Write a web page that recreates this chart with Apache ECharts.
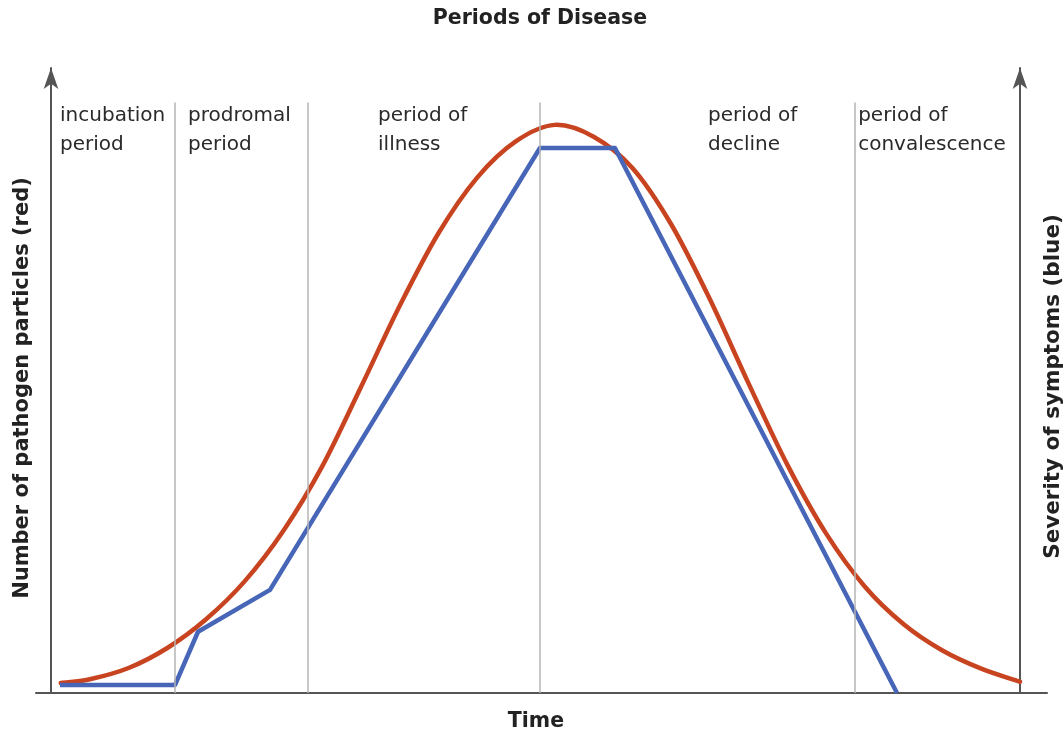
<!DOCTYPE html>
<html>
<head>
<meta charset="utf-8">
<title>Periods of Disease</title>
<script src="https://cdn.jsdelivr.net/npm/echarts@6/dist/echarts.min.js"></script>
<style>
  html, body { margin: 0; padding: 0; background: #fff; }
  #chart { width: 1063px; height: 735px; }
</style>
</head>
<body>
<div id="chart"></div>
<script>
// Time runs 0–100 from the start of infection to full recovery.
// Pathogen load (red) and symptom severity (blue) are on 0–100 relative scales.

const pathogenTime = [1, 4, 8, 12, 16, 20, 24, 28, 32, 36, 40, 44, 48, 52,
  56, 60, 64, 68, 72, 76, 80, 84, 88, 92, 96, 100];
const pathogenLevel = [1.6, 2.2, 4.0, 7.2, 11.8, 17.9, 26.0, 36.3, 49.0, 62.0, 73.6, 82.5, 88.3, 90.9,
  89.0, 84.0, 75.0, 63.0, 49.5, 36.5, 25.5, 17.0, 11.0, 6.8, 3.9, 1.8];

const symptomTime = [0.93, 12.80, 15.17, 22.60, 50.46, 58.20, 87.31];
const symptomLevel = [1.3, 1.3, 9.8, 16.5, 87.2, 87.2, 0];

// Boundaries between the periods of disease
const periodBoundaries = [12.80, 26.52, 50.46, 82.97];
const periodNames = [
  'incubation\nperiod',
  'prodromal\nperiod',
  'period of\nillness',
  'period of\ndecline',
  'period of\nconvalescence'
];

const titleText = 'Periods of Disease';
const xName = 'Time';
const yLeftName = 'Number of pathogen particles (red)';
const yRightName = 'Severity of symptoms (blue)';

// Layout: where each period name starts along the time axis
const periodLabelAt = [0.93, 14.14, 33.75, 67.8, 83.3];

const RED = '#c8431f';
const BLUE = '#4766b8';
const AXIS = '#555';
const DIVIDER = '#b4b4b4';
const FONT = '"DejaVu Sans", "Liberation Sans", sans-serif';

const chart = echarts.init(document.getElementById('chart'), null, { renderer: 'canvas' });

const zip = (xs, ys) => xs.map((x, i) => [x, ys[i]]);

const hiddenAxisParts = {
  axisTick: { show: false },
  axisLabel: { show: false },
  splitLine: { show: false }
};

// Draws the pathogen curve as one Catmull-Rom spline through all its points,
// placed with the chart's own coordinate system.
function renderPathogenCurve(params, api) {
  if (params.dataIndex !== 0) return null;
  const pts = [];
  for (let i = 0; i < params.dataInsideLength; i++) {
    pts.push(api.coord([api.value(0, i), api.value(1, i)]));
  }
  let d = 'M' + pts[0][0] + ' ' + pts[0][1];
  for (let i = 0; i < pts.length - 1; i++) {
    const p0 = pts[Math.max(i - 1, 0)];
    const p1 = pts[i];
    const p2 = pts[i + 1];
    const p3 = pts[Math.min(i + 2, pts.length - 1)];
    const c1x = p1[0] + (p2[0] - p0[0]) / 6;
    const c1y = p1[1] + (p2[1] - p0[1]) / 6;
    const c2x = p2[0] - (p3[0] - p1[0]) / 6;
    const c2y = p2[1] - (p3[1] - p1[1]) / 6;
    d += ' C' + c1x + ' ' + c1y + ' ' + c2x + ' ' + c2y + ' ' + p2[0] + ' ' + p2[1];
  }
  return {
    type: 'path',
    shape: { pathData: d },
    style: { fill: 'none', stroke: RED, lineWidth: 4.5, lineCap: 'round', lineJoin: 'round' }
  };
}

chart.setOption({
  animation: false,
  backgroundColor: '#fff',
  title: {
    text: titleText,
    left: 535,
    top: 3,
    textAlign: 'center',
    textStyle: { fontFamily: FONT, fontWeight: 'bold', fontSize: 20.5, color: '#222' }
  },
  grid: { left: 36, right: 16, top: 68, bottom: 42, containLabel: false, outerBoundsMode: 'none' },
  xAxis: {
    type: 'value',
    min: -1.55,
    max: 102.79,
    name: xName,
    nameLocation: 'middle',
    nameGap: 18,
    nameTextStyle: { fontFamily: FONT, fontWeight: 'bold', fontSize: 20.5, color: '#222', padding: [0, 11, 0, 0] },
    axisLine: { show: true, lineStyle: { color: AXIS, width: 2 } },
    ...hiddenAxisParts
  },
  yAxis: [
    {
      type: 'value',
      min: 0,
      max: 100,
      position: 'left',
      name: yLeftName,
      nameLocation: 'middle',
      nameRotate: 90,
      nameGap: 3,
      nameTextStyle: { fontFamily: FONT, fontWeight: 'bold', fontSize: 21, color: '#222', padding: [0, 15, 0, 0] },
      axisLine: {
        show: true, onZero: true,
        symbol: ['none', 'arrow'], symbolSize: [11, 21],
        lineStyle: { color: AXIS, width: 2 }
      },
      ...hiddenAxisParts
    },
    {
      type: 'value',
      min: 0,
      max: 100,
      position: 'right',
      offset: -27,
      name: yRightName,
      nameLocation: 'middle',
      nameRotate: 90,
      nameGap: 22,
      nameTextStyle: { fontFamily: FONT, fontWeight: 'bold', fontSize: 21.5, color: '#222', padding: [0, 12, 0, 0] },
      axisLine: {
        show: true, onZero: false,
        symbol: ['none', 'arrow'], symbolSize: [11, 21],
        lineStyle: { color: AXIS, width: 2 }
      },
      ...hiddenAxisParts
    }
  ],
  series: [
    {
      name: 'period boundaries',
      type: 'line',
      data: [],
      z: 1,
      silent: true,
      markLine: {
        silent: true,
        symbol: 'none',
        label: { show: false },
        lineStyle: { color: DIVIDER, width: 1.5, type: 'solid' },
        data: periodBoundaries.map(t => [{ coord: [t, 0] }, { coord: [t, 94.5] }])
      }
    },
    {
      name: 'pathogen particles',
      type: 'custom',
      yAxisIndex: 0,
      data: zip(pathogenTime, pathogenLevel),
      renderItem: renderPathogenCurve,
      clip: false,
      silent: true,
      z: 3
    },
    {
      name: 'severity of symptoms',
      type: 'line',
      yAxisIndex: 1,
      data: zip(symptomTime, symptomLevel),
      showSymbol: false,
      z: 4,
      lineStyle: { color: BLUE, width: 4.5, cap: 'butt', join: 'round' }
    }
  ]
});

// Period names sit just under the top of the plot, left-aligned at their start times
const labelTop = 101;
chart.setOption({
  graphic: periodNames.map((name, i) => ({
    type: 'text',
    x: chart.convertToPixel({ xAxisIndex: 0 }, periodLabelAt[i]),
    y: labelTop,
    silent: true,
    style: {
      text: name,
      fontFamily: FONT,
      fontSize: 20,
      lineHeight: 29,
      fill: '#2a2a2a',
      align: 'left',
      verticalAlign: 'top'
    }
  }))
});
</script>
</body>
</html>
